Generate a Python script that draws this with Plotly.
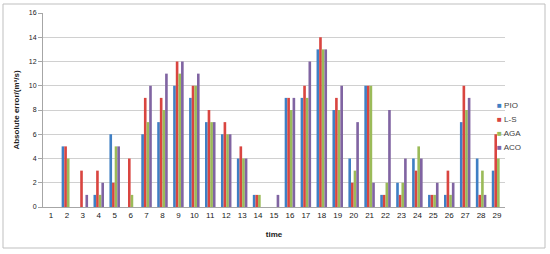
import plotly.graph_objects as go

categories = [str(i) for i in range(1, 30)]
pio = [0, 5, 0, 1, 6, 0, 6, 7, 10, 9, 7, 6, 4, 1, 0, 9, 9, 13, 8, 4, 10, 1, 2, 4, 1, 1, 7, 4, 3]
ls  = [0, 5, 3, 3, 2, 4, 9, 9, 12, 10, 8, 7, 5, 1, 0, 9, 10, 14, 9, 2, 10, 1, 1, 3, 1, 3, 10, 1, 6]
aga = [0, 4, 0, 1, 5, 1, 7, 8, 11, 10, 7, 6, 4, 1, 0, 8, 9, 13, 8, 3, 10, 2, 2, 5, 1, 1, 8, 3, 4]
aco = [0, 0, 1, 2, 5, 0, 10, 11, 12, 11, 7, 6, 4, 0, 1, 9, 12, 13, 10, 7, 2, 8, 4, 4, 2, 2, 9, 1, 0]
y_ticks = [0, 2, 4, 6, 8, 10, 12, 14, 16]

series = [("PIO", pio, "#3F7FC4"), ("L-S", ls, "#D94540"), ("AGA", aga, "#9BBB59"), ("ACO", aco, "#8064A2")]

fig = go.Figure()
for name, vals, col in series:
    fig.add_trace(go.Bar(x=categories, y=vals, name=name, showlegend=False,
                         marker=dict(color=col, line=dict(width=0))))

L, R, T, B = 43, 45, 13, 47
W, H = 550, 254
pw, ph = W - L - R, H - T - B

# legend drawn as text annotations (compact spacing like the original)
annotations = []
for i, (name, vals, col) in enumerate(series):
    py = 105 + 14 * i
    annotations.append(dict(
        xref="paper", yref="paper", x=(495 - L) / pw, y=(207 - py) / ph,
        xanchor="left", yanchor="middle", showarrow=False,
        text=f"<span style='color:{col}'>■</span> {name}",
        font=dict(size=8, color="#404040"),
    ))

fig.update_layout(
    width=W, height=H,
    margin=dict(l=L, r=R, t=T, b=B, autoexpand=False),
    paper_bgcolor="white", plot_bgcolor="white",
    barmode="group", bargap=0.34, bargroupgap=0,
    font=dict(family="Liberation Sans, Arial, sans-serif", size=8, color="#404040"),
    showlegend=False,
    annotations=annotations,
    xaxis=dict(
        type="category", showgrid=False, showline=True, linecolor="#A6A6A6", linewidth=1,
        ticks="", tickfont=dict(size=8, color="#202020"),
        title=dict(text="<b>time</b>", font=dict(size=8, color="#202020"), standoff=12),
    ),
    yaxis=dict(
        range=[0, 16], tickvals=y_ticks, showgrid=True, gridcolor="#D0D0D0", gridwidth=1,
        showline=True, linecolor="#A6A6A6", linewidth=1, ticks="outside", ticklen=4,
        tickcolor="#A6A6A6", tickfont=dict(size=7, color="#202020"), zeroline=False,
        title=dict(text="<b>Absolute error/(m³/s)</b>", font=dict(size=8, color="#202020"), standoff=8),
    ),
    shapes=[dict(type="rect", xref="paper", yref="paper",
                 x0=(3 - L) / pw, x1=(545 - L) / pw,
                 y0=(207 - 248) / ph, y1=(207 - 4) / ph,
                 line=dict(color="#BFBFBF", width=1), fillcolor="rgba(0,0,0,0)", layer="below")],
)

fig.write_html("out.html", config={"displayModeBar": False},
               post_script="document.body.style.margin='0';")
